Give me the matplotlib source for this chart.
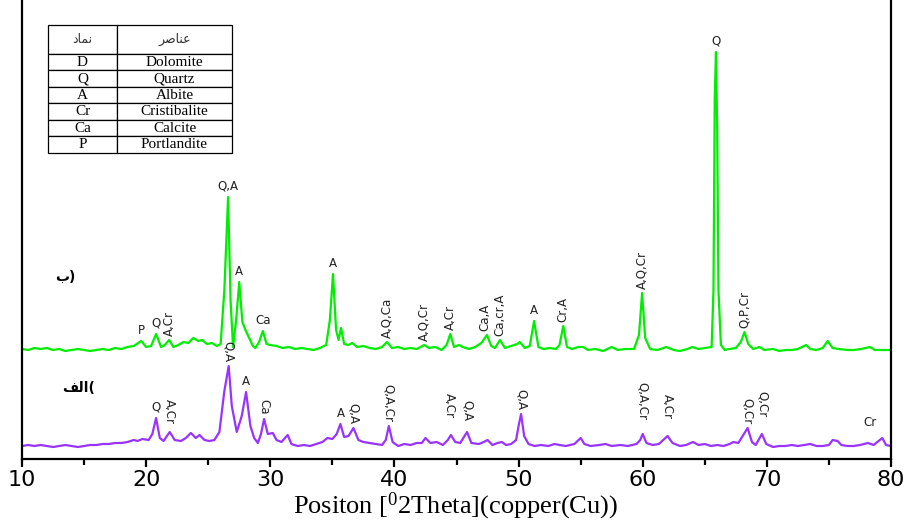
import numpy as np
import matplotlib
matplotlib.use('Agg')
import matplotlib.pyplot as plt

plt.rcParams['mathtext.fontset'] = 'custom'
plt.rcParams['mathtext.rm'] = 'Liberation Serif'

# region data: 2theta / intensity (a.u., relative to each baseline)
green_x = [10.0, 10.5, 11.0, 11.5, 12.0, 12.5, 13.0, 13.5, 14.0, 14.5, 15.0, 15.5, 16.0, 16.5, 17.0, 17.5,
           18.0, 18.5, 19.0, 19.6, 20.0, 20.4, 20.8, 21.2, 21.5, 21.85, 22.2, 22.6, 23.0, 23.4, 23.8, 24.2,
           24.5, 24.9, 25.3, 25.7, 26.0, 26.3, 26.6, 26.8, 27.0, 27.25, 27.5, 27.75, 28.0, 28.3, 28.6, 28.8,
           29.1, 29.4, 29.7, 30.0, 30.5, 31.0, 31.5, 32.0, 32.5, 33.0, 33.5, 34.0, 34.5, 34.8, 35.05, 35.3,
           35.5, 35.7, 35.95, 36.3, 36.6, 37.0, 37.5, 38.0, 38.5, 39.0, 39.4, 39.8, 40.3, 40.8, 41.3, 41.8,
           42.4, 42.8, 43.3, 43.8, 44.2, 44.5, 44.8, 45.2, 45.5, 46.0, 46.5, 47.0, 47.45, 47.8, 48.1, 48.5,
           48.9, 49.4, 49.9, 50.1, 50.5, 50.9, 51.25, 51.6, 52.0, 52.5, 53.0, 53.3, 53.6, 53.9, 54.3, 54.8,
           55.2, 55.6, 56.2, 56.8, 57.5, 58.0, 58.6, 59.3, 59.7, 59.95, 60.2, 60.6, 61.2, 61.9, 62.5, 63.0,
           63.6, 64.0, 64.5, 65.0, 65.55, 65.7, 65.8, 65.9, 66.0, 66.1, 66.3, 66.6, 67.0, 67.5, 67.9, 68.2,
           68.5, 68.9, 69.4, 69.8, 70.5, 71.0, 71.5, 72.0, 72.5, 73.15, 73.5, 74.0, 74.5, 74.9, 75.3, 75.8,
           76.5, 77.0, 77.6, 78.3, 78.7, 79.3, 80.0]
green_y = [1, 0, 2, 1, 2, 0, 1, -1, 0, 1, 0, -1, 0, 1, 0, 2,
           1, 3, 4, 9, 3, 4, 16, 3, 5, 10, 3, 5, 8, 7, 12, 9,
           10, 6, 7, 4, 6, 60, 153, 50, 3, 30, 68, 28, 20, 12, 4, 2,
           8, 19, 6, 5, 4, 2, 3, 1, 2, 1, 0, 2, 5, 30, 76, 20,
           10, 22, 6, 5, 7, 3, 4, 2, 1, 3, 8, 2, 3, 1, 2, 1,
           5, 2, 3, 0, 5, 16, 3, 5, 3, 1, 3, 7, 15, 4, 2, 10,
           2, 4, 6, 8, 2, 4, 29, 3, 1, 2, 1, 5, 24, 3, 1, 3,
           3, 0, 1, -1, 3, 0, 1, 1, 15, 57, 12, 1, 0, 3, 0, -1,
           1, 3, 1, 2, 3, 60, 250, 298, 220, 60, 5, 0, 1, 2, 8, 18,
           6, 1, 3, 0, 1, -1, 0, 0, 1, 5, 1, 0, 2, 9, 2, 1,
           0, 0, 1, 3, 0, 0, 0]

purple_x = [10.0, 10.5, 11.0, 11.5, 12.0, 12.5, 13.0, 13.5, 14.0, 14.5, 15.0, 15.5, 16.0, 16.5, 17.0, 17.5,
            18.0, 18.5, 19.0, 19.3, 19.7, 20.2, 20.5, 20.8, 21.1, 21.4, 21.9, 22.3, 22.8, 23.2, 23.6, 24.0,
            24.3, 24.7, 25.1, 25.5, 25.9, 26.3, 26.65, 26.9, 27.3, 27.7, 28.05, 28.4, 28.7, 29.0, 29.25, 29.5,
            29.8, 30.2, 30.5, 30.9, 31.4, 31.7, 32.2, 32.7, 33.2, 33.7, 34.2, 34.6, 35.0, 35.35, 35.65, 35.95,
            36.3, 36.7, 37.1, 37.5, 38.0, 38.5, 39.0, 39.3, 39.55, 39.85, 40.3, 40.8, 41.3, 41.8, 42.2, 42.5,
            42.9, 43.4, 43.9, 44.3, 44.55, 44.9, 45.3, 45.85, 46.2, 46.8, 47.2, 47.5, 47.9, 48.3, 48.65, 49.0,
            49.4, 49.8, 50.0, 50.2, 50.45, 50.8, 51.3, 51.8, 52.4, 52.9, 53.3, 53.8, 54.5, 55.0, 55.3, 55.8,
            56.5, 57.0, 57.5, 58.2, 58.8, 59.5, 59.8, 60.0, 60.3, 60.8, 61.3, 62.0, 62.4, 63.0, 63.5, 64.05,
            64.5, 65.0, 65.5, 66.0, 66.5, 67.0, 67.3, 67.7, 68.05, 68.45, 68.8, 69.1, 69.6, 69.95, 70.5, 71.0,
            71.5, 72.0, 72.5, 73.0, 73.5, 74.0, 74.5, 75.0, 75.3, 75.7, 76.0, 76.5, 77.0, 77.5, 78.15, 78.6,
            79.0, 79.3, 79.6, 80.0]
purple_y = [0, 1, 0, 1, 0, -1, 0, 1, 0, -1, 0, 1, 1, 2, 2, 3,
            3, 4, 6, 5, 7, 6, 12, 28, 8, 5, 14, 6, 5, 8, 13, 8,
            11, 6, 5, 6, 14, 55, 80, 40, 14, 30, 54, 20, 8, 3, 12, 27,
            12, 13, 6, 4, 11, 2, 0, 1, 0, 2, 4, 8, 7, 12, 22, 9,
            10, 18, 6, 4, 3, 2, 1, 6, 20, 4, 0, 2, 1, 3, 3, 8,
            3, 4, 1, 6, 11, 4, 3, 14, 3, 2, 4, 6, 1, 3, 4, 1,
            2, 6, 20, 32, 10, 2, 0, 1, 0, 2, 1, 0, 2, 8, 2, 0,
            1, 2, 0, 1, 0, 2, 6, 12, 3, 1, 2, 10, 3, 0, 1, 4,
            1, 2, 0, 1, 0, 2, 4, 3, 10, 18, 4, 1, 12, 2, -1, 0,
            0, 1, 0, 1, 2, 0, 0, 1, 6, 5, 1, 0, 0, 1, 3, 1,
            5, 8, 1, 0]

# peak labels: (2theta, text, rotation)
green_labels = [(19.6, 'P', 0), (20.8, 'Q', 0), (21.85, 'A,Cr', 90), (26.6, 'Q,A', 0), (27.5, 'A', 0),
                (29.4, 'Ca', 0), (35.05, 'A', 0), (39.4, 'A,Q,Ca', 90), (42.4, 'A,Q,Cr', 90),
                (44.5, 'A,Cr', 90), (47.3, 'Ca,A', 90), (48.5, 'Ca,cr,A', 90), (51.25, 'A', 0),
                (53.6, 'Cr,A', 90), (59.95, 'A,Q,Cr', 90), (65.9, 'Q', 0), (68.2, 'Q,P,Cr', 90)]
purple_labels = [(20.8, 'Q', 0), (21.9, 'A,Cr', 270), (26.65, 'Q,A', 270), (28.05, 'A', 0),
                 (29.5, 'Ca', 270), (35.65, 'A', 0), (36.7, 'Q,A', 270), (39.55, 'Q,A,Cr', 270),
                 (44.4, 'A,Cr', 270), (45.85, 'Q,A', 270), (50.2, 'Q,A', 270), (60.0, 'Q,A,Cr', 270),
                 (62.0, 'A,Cr', 270), (68.4, 'Q,Cr', 270), (69.6, 'Q,Cr', 270), (78.3, 'Cr', 0)]
purple_gaps = {44.4: 12, 45.85: 8, 60.0: 10, 62.0: 12, 69.6: 12, 78.3: 10, 21.9: 6}

symbols = ['D', 'Q', 'A', 'Cr', 'Ca', 'P']
minerals = ['Dolomite', 'Quartz', 'Albite', 'Cristibalite', 'Calcite', 'Portlandite']
# endregion

green_offset = 109
purple_offset = 13
green = np.array(green_y) + green_offset
purple = np.array(purple_y) + purple_offset

fig = plt.figure(figsize=(9.09, 5.21), dpi=100)
ax = fig.add_axes([22 / 909, 62 / 521, 869 / 909, 459 / 521])

ax.plot(green_x, green, color='#00ee00', lw=1.6)
ax.plot(purple_x, purple, color='#9933ff', lw=1.6)

ax.set_xlim(10, 80)
ax.set_ylim(0, 459)


def label_peaks(xs, ys, labels, gaps=None):
    xs = np.array(xs)
    ys = np.array(ys)
    for x0, txt, rot in labels:
        near = np.abs(xs - x0) <= 0.35
        ytop = ys[near].max()
        gap = 3 if gaps is None else gaps.get(x0, 3)
        ax.annotate(txt, xy=(x0, ytop), xytext=(0, gap), textcoords='offset points',
                    ha='center', va='bottom', rotation=rot, fontsize=8.5,
                    family='DejaVu Sans', color='#222222')


label_peaks(green_x, green, green_labels)
label_peaks(purple_x, purple, purple_labels, purple_gaps)

# axes styling
for s in ['left', 'right', 'bottom']:
    ax.spines[s].set_linewidth(1.6)
ax.spines['top'].set_visible(False)
ax.set_yticks([])
ax.set_xticks(range(10, 81, 10))
ax.set_xticks(range(15, 80, 10), minor=True)
ax.tick_params(axis='x', which='major', direction='out', length=6, width=1.6, pad=2,
               labelsize=16)
ax.tick_params(axis='x', which='minor', direction='out', length=4, width=1.6)
for t in ax.get_xticklabels():
    t.set_family('DejaVu Sans')

# sample labels (Arabic, pre-shaped presentation forms)
ax.text(33 / 869, 1 - 277 / 459, '\uFE8F)', transform=ax.transAxes,
        fontsize=10, fontweight='bold', family='DejaVu Sans', va='center', ha='left')
ax.text(40 / 869, 1 - 388 / 459, '\uFED2\uFEDF\uFE8D(', transform=ax.transAxes,
        fontsize=10, fontweight='bold', family='DejaVu Sans', va='center', ha='left')

# legend table
cell_text = [['\uFEA9\uFE8E\uFEE4\uFEE7', '\uFEAE\uFEBB\uFE8E\uFEE8\uFECB']] + \
            [[s, m] for s, m in zip(symbols, minerals)]
tab = ax.table(cellText=cell_text, colWidths=[0.375, 0.625], cellLoc='center',
               bbox=[26 / 869, (459 - 153) / 459, 184 / 869, 128 / 459])
tab.auto_set_font_size(False)
for (r, c), cell in tab.get_celld().items():
    cell.set_linewidth(0.9)
    cell.set_edgecolor('black')
    if r == 0:
        cell.set_height(cell.get_height() * 1.75)
        cell.get_text().set_fontfamily('DejaVu Sans')
        cell.get_text().set_fontsize(9)
        cell.get_text().set_color('#333333')
    else:
        cell.get_text().set_fontfamily('Liberation Serif')
        cell.get_text().set_fontsize(11)

fig.text(456 / 909, 1 - 513 / 521, 'Positon [$\\mathregular{^{0}}$2Theta](copper(Cu))',
         ha='center', va='baseline', fontsize=19, family='Liberation Serif')

fig.savefig('out.png', dpi=100)
